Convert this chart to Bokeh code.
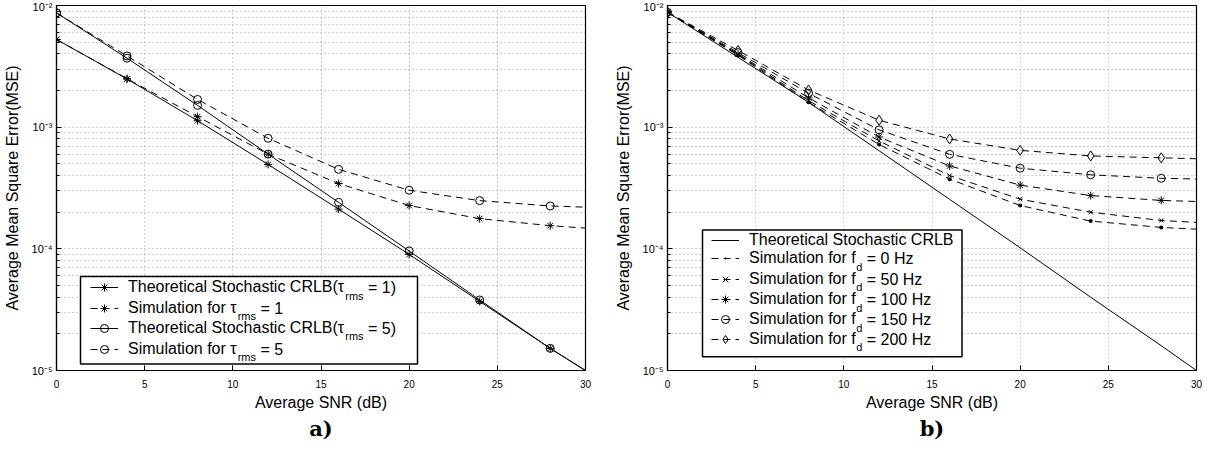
import math
from bokeh.plotting import figure
from bokeh.layouts import row
from bokeh.models import (Legend, LegendItem, Label, BoxAnnotation, Title,
                          CustomJSTickFormatter, FixedTicker)
from bokeh.embed import file_html
from bokeh.resources import INLINE

# ---------------- data ----------------
snr = [0, 4, 8, 12, 16, 20, 24, 28, 30]      # markers on the first 8 points, lines end at 30
x_ticks = [0, 5, 10, 15, 20, 25, 30]
y_ticks = [1e-5, 1e-4, 1e-3, 1e-2]
y_minor = [m * 10.0 ** e for e in (-5, -4, -3) for m in range(2, 10)]

# panel a)
crlb_tau1 = [5.26e-3, 2.49e-3, 1.13e-3, 4.94e-4, 2.12e-4, 9.0e-5, 3.7e-5, 1.52e-5, 1.0e-5]
sim_tau1 = [5.26e-3, 2.50e-3, 1.22e-3, 6.0e-4, 3.44e-4, 2.27e-4, 1.77e-4, 1.55e-4, 1.48e-4]
crlb_tau5 = [8.7e-3, 3.69e-3, 1.51e-3, 6.0e-4, 2.41e-4, 9.6e-5, 3.8e-5, 1.52e-5, 1.0e-5]
sim_tau5 = [8.7e-3, 3.85e-3, 1.69e-3, 8.1e-4, 4.5e-4, 3.03e-4, 2.49e-4, 2.25e-4, 2.2e-4]

# panel b)
crlb_b = [8.8e-3, 3.75e-3, 1.6e-3, 6.4e-4, 2.55e-4, 1.02e-4, 4.0e-5, 1.6e-5, 1.0e-5]
sim_0hz = [8.8e-3, 3.9e-3, 1.6e-3, 7.2e-4, 3.74e-4, 2.27e-4, 1.69e-4, 1.5e-4, 1.45e-4]
sim_50hz = [8.8e-3, 3.95e-3, 1.65e-3, 7.7e-4, 4.0e-4, 2.56e-4, 2.0e-4, 1.71e-4, 1.65e-4]
sim_100hz = [8.8e-3, 4.0e-3, 1.74e-3, 8.3e-4, 4.8e-4, 3.34e-4, 2.74e-4, 2.5e-4, 2.45e-4]
sim_150hz = [8.8e-3, 4.1e-3, 1.9e-3, 9.5e-4, 5.98e-4, 4.6e-4, 4.06e-4, 3.8e-4, 3.75e-4]
sim_200hz = [8.8e-3, 4.27e-3, 2.02e-3, 1.14e-3, 8.0e-4, 6.45e-4, 5.8e-4, 5.6e-4, 5.5e-4]

legend_a = [("Theoretical Stochastic CRLB(\u03c4", "rms", " = 1)"),
            ("Simulation for \u03c4", "rms", " = 1"),
            ("Theoretical Stochastic CRLB(\u03c4", "rms", " = 5)"),
            ("Simulation for \u03c4", "rms", " = 5")]
legend_b = [("Theoretical Stochastic CRLB", "", ""),
            ("Simulation for f", "d", " = 0 Hz"),
            ("Simulation for f", "d", " = 50 Hz"),
            ("Simulation for f", "d", " = 100 Hz"),
            ("Simulation for f", "d", " = 150 Hz"),
            ("Simulation for f", "d", " = 200 Hz")]
x_label = "Average SNR (dB)"
y_label = "Average Mean Square Error(MSE)"

# ---------------- styling helpers ----------------
FONT = "Liberation Sans"
LEG_PX = 16
SUB_PX = 11
NM = 8  # number of marked points

W_ARIAL = {' ': 278, '(': 333, ')': 333, '=': 584, 'A': 667, 'B': 667, 'C': 722, 'H': 722,
           'L': 556, 'R': 722, 'S': 667, 'T': 611, 'a': 556, 'c': 500, 'd': 556, 'e': 556,
           'f': 278, 'h': 556, 'i': 222, 'l': 222, 'm': 833, 'n': 556, 'o': 556, 'r': 333,
           's': 500, 't': 278, 'u': 556, 'z': 500, '\u03c4': 430}


def tw(s, px):
    return sum(W_ARIAL.get(c, 556) for c in s) * px / 1000.0


sup_js = """
const sup = {"-": "\u207b", "0": "\u2070", "1": "\u00b9", "2": "\u00b2", "3": "\u00b3",
             "4": "\u2074", "5": "\u2075", "6": "\u2076", "7": "\u2077", "8": "\u2078", "9": "\u2079"};
const e = Math.round(Math.log10(tick));
return "10" + String(e).split("").map(c => sup[c]).join("");
"""

GRID_ALPHA = 0.38
GRID_DASH = "1 3"


def make_fig(width, border_left, border_right, tag):
    p = figure(width=width, height=447, x_range=(0, 30), y_range=(1e-5, 1e-2),
               y_axis_type="log", output_backend="svg", toolbar_location=None,
               min_border_left=border_left, min_border_right=border_right,
               min_border_top=5, min_border_bottom=77)
    p.outline_line_color = "black"
    p.outline_line_width = 1.2
    p.background_fill_color = "white"
    p.border_fill_color = "white"

    p.xaxis.ticker = FixedTicker(ticks=x_ticks)
    p.yaxis.ticker = FixedTicker(ticks=y_ticks, minor_ticks=y_minor)
    p.yaxis.formatter = CustomJSTickFormatter(code=sup_js)
    for ax in (p.xaxis, p.yaxis):
        ax.axis_line_color = "black"
        ax.axis_line_width = 1.2
        ax.major_tick_in = 5
        ax.major_tick_out = 0
        ax.minor_tick_in = 3
        ax.minor_tick_out = 0
        ax.major_tick_line_color = "black"
        ax.minor_tick_line_color = "black"
        ax.major_label_text_font = FONT
        ax.major_label_text_color = "black"
        ax.axis_label_text_font = FONT
        ax.axis_label_text_font_size = "16px"
        ax.axis_label_text_font_style = "normal"
        ax.axis_label_text_color = "black"
    p.xaxis.major_label_text_font_size = "10px"
    p.yaxis.major_label_text_font_size = "11px"
    p.xaxis.major_label_standoff = 9
    p.xaxis.axis_label_standoff = 3
    p.yaxis.major_label_standoff = 4
    p.yaxis.axis_label_standoff = 8
    p.xaxis.axis_label = x_label
    p.yaxis.axis_label = y_label

    for g in (p.xgrid, p.ygrid):
        g.grid_line_color = "black"
        g.grid_line_alpha = GRID_ALPHA
        g.grid_line_dash = GRID_DASH
        g.grid_line_width = 1
    p.ygrid.minor_grid_line_color = "black"
    p.ygrid.minor_grid_line_alpha = GRID_ALPHA
    p.ygrid.minor_grid_line_dash = GRID_DASH

    p.add_layout(Title(text=tag, align="center", text_font="DejaVu Serif",
                       text_font_size="21px", text_font_style="bold",
                       text_color="black", standoff=0, text_line_height=1.0), "below")
    return p


def series(p, y, dash, marker, size):
    line = p.line(snr, y, line_color="black", line_width=1, line_dash=dash)
    rs = [line]
    if marker is not None:
        if marker == "dot":
            m = p.scatter(snr[:NM], y[:NM], marker="dot", size=size,
                          line_color="black", fill_color="black")
        else:
            m = p.scatter(snr[:NM], y[:NM], marker=marker, size=size,
                          fill_color=None, line_color="black", line_width=1)
        rs.append(m)
    return rs


def build_legend(p, entries, rlist, box_left, box_bottom, box_top, min_right, lx, centers):
    GW, GH, STAND = 28, 20, 10
    text_x = lx + GW + STAND
    ends = [text_x + tw(a, LEG_PX) + tw(b, SUB_PX) + tw(c, LEG_PX) for a, b, c in entries]
    box_right = max(max(ends) + 8, min_right)
    p.add_layout(BoxAnnotation(left=box_left, right=box_right, bottom=box_bottom, top=box_top,
                               left_units="screen", right_units="screen",
                               bottom_units="screen", top_units="screen",
                               fill_color="white", fill_alpha=1.0,
                               line_color="black", line_width=1.5, line_alpha=1.0))
    for (a, b, c), rs, cy in zip(entries, rlist, centers):
        leg = Legend(items=[LegendItem(label=a, renderers=rs)], location=(lx, cy - GH / 2),
                     orientation="vertical", padding=0, margin=0, spacing=0,
                     glyph_width=GW, glyph_height=GH, label_height=GH, label_standoff=STAND,
                     label_text_font=FONT, label_text_font_size=f"{LEG_PX}px",
                     label_text_color="black", background_fill_alpha=0,
                     border_line_alpha=0)
        p.add_layout(leg)
        if b:
            xs = text_x + tw(a, LEG_PX)
            p.add_layout(Label(x=xs, y=cy - 8, x_units="screen", y_units="screen", text=b,
                               text_font=FONT, text_font_size=f"{SUB_PX}px",
                               text_baseline="middle", text_color="black"))
            xt = xs + tw(b, SUB_PX) + tw(" ", LEG_PX)
            p.add_layout(Label(x=xt, y=cy, x_units="screen", y_units="screen",
                               text=c.strip(), text_font=FONT, text_font_size=f"{LEG_PX}px",
                               text_baseline="middle", text_color="black"))


# ---------------- panel a ----------------
pa = make_fig(611, 52, 26, "a)")
r1 = series(pa, crlb_tau1, "solid", "asterisk", 8)
r2 = series(pa, sim_tau1, "7 5", "asterisk", 8)
r3 = series(pa, crlb_tau5, "solid", "circle", 8)
r4 = series(pa, sim_tau5, "7 5", "circle", 8)
build_legend(pa, legend_a, [r1, r2, r3, r4], 24, 6.6, 93.9, 361, 34,
             [82.7, 62.1, 42.5, 21.3])

# ---------------- panel b ----------------
pb = make_fig(593, 52, 8, "b)")
q0 = series(pb, crlb_b, "solid", None, 0)
q1 = series(pb, sim_0hz, "7 5", "dot", 16)
q2 = series(pb, sim_50hz, "7 5", "x", 6)
q3 = series(pb, sim_100hz, "7 5", "asterisk", 8)
q4 = series(pb, sim_150hz, "7 5", "circle", 8)
q5 = series(pb, sim_200hz, "7 5", "diamond", 10)
build_legend(pb, legend_b, [q0, q1, q2, q3, q4, q5], 35, 13.7, 140.5, 0, 44,
             [130.5, 112.0, 91.3, 70.6, 51.0, 31.4])

layout = row(pa, pb)
open("out.html", "w").write(file_html(layout, INLINE))
